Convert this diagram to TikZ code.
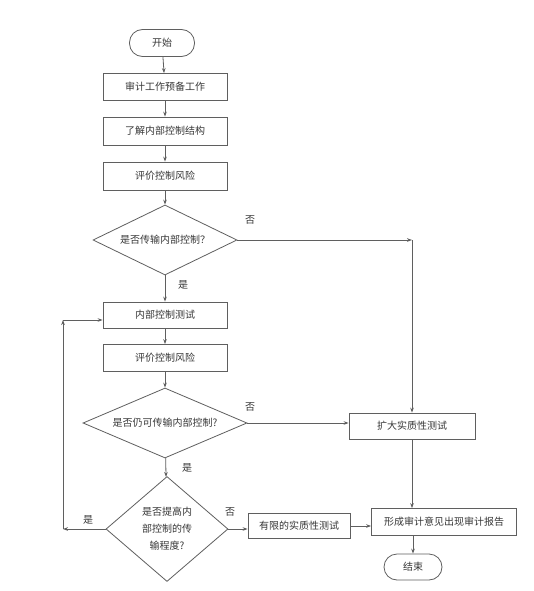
\documentclass[tikz,border=0pt]{standalone}
\usepackage{fontspec}
\newfontfamily\cjk{Noto Sans CJK SC}
\usetikzlibrary{shapes.geometric,arrows.meta,calc}
\definecolor{ln}{RGB}{95,95,95}
\definecolor{tx}{RGB}{55,55,55}
\tikzset{
  base/.style={draw=ln, line width=0.8pt, text=tx, font=\cjk\fontsize{10}{17}\selectfont, inner sep=0pt, align=center},
  box/.style={base, rectangle, minimum width=124pt, minimum height=27pt},
  term/.style={base, rectangle, rounded corners=13pt, minimum height=26pt},
  dia/.style={base, diamond, aspect=2},
  conn/.style={draw=ln, line width=0.8pt, -{Stealth[length=5pt,width=3.6pt]}},
  lab/.style={text=tx, font=\cjk\fontsize{10}{12}\selectfont, inner sep=0pt}
}
\begin{document}
\begin{tikzpicture}[x=1pt,y=-1pt]
\useasboundingbox[fill=white] (0,0) rectangle (534,591);
% nodes
\node[term, minimum width=65pt, minimum height=27pt] (start) at (162,43) {开始};
\node[box] (b1) at (165,87) {审计工作预备工作};
\node[box, minimum height=28pt] (b2) at (165,131) {了解内部控制结构};
\node[box, minimum height=28pt] (b3) at (165,176) {评价控制风险};
\node[dia, minimum width=144pt, minimum height=70pt] (d1) at (165,240) {是否传输内部控制？};
\node[box, minimum height=26pt] (b4) at (165,315) {内部控制测试};
\node[box] (b5) at (165,358) {评价控制风险};
\node[dia, minimum width=164pt, minimum height=70pt] (d2) at (165,423) {是否仍可传输内部控制?};
\node[dia, aspect=1.16, minimum width=122pt, minimum height=105pt] (d3) at (167,529) {是否提高内\\部控制的传\\输程度?};
\node[box, minimum width=102pt, minimum height=25pt] (b6) at (299,526) {有限的实质性测试};
\node[box, minimum width=126pt, minimum height=26pt] (b7) at (412,426) {扩大实质性测试};
\node[box, minimum width=145pt, minimum height=27pt] (b8) at (444,522) {形成审计意见出现审计报告};
\node[term, minimum width=58pt] (end) at (413,567) {结束};
% helper coordinates
\coordinate (c1) at (412,240);
\coordinate (c2) at (63,529);
\coordinate (c3) at (63,320);
% connectors
\draw[conn] (start) -- (b1);
\draw[conn] (b1) -- (b2);
\draw[conn] (b2) -- (b3);
\draw[conn] (b3) -- (d1);
\draw[conn] (d1) -- (b4);
\draw[conn] (d1.east) -- (c1);
\draw[conn] (c1) -- (b7.north);
\draw[conn] (b4) -- (b5);
\draw[conn] (b5) -- (d2);
\draw[conn] (d2) -- (d3);
\draw[conn] (d2.east) -- (d2.east -| b7.west);
\draw[conn] (d3.west) -- (c2);
\draw[conn] (c2) -- (c3);
\draw[conn] (c3) -- (c3 -| b4.west);
\draw[conn] (d3.east) -- (d3.east -| b6.west);
\draw[conn] (b6.east) -- (b6.east -| b8.west);
\draw[conn] (b7.south) -- (b7.south |- b8.north);
\draw[conn] (end.north |- b8.south) -- (end.north);
% labels
\node[lab] (l1) at (250,220) {否};
\node[lab] (l2) at (183,285) {是};
\node[lab] (l3) at (250,407) {否};
\node[lab] (l4) at (187,468) {是};
\node[lab] (l5) at (230,512) {否};
\node[lab] (l6) at (88,520) {是};
\end{tikzpicture}
\end{document}
